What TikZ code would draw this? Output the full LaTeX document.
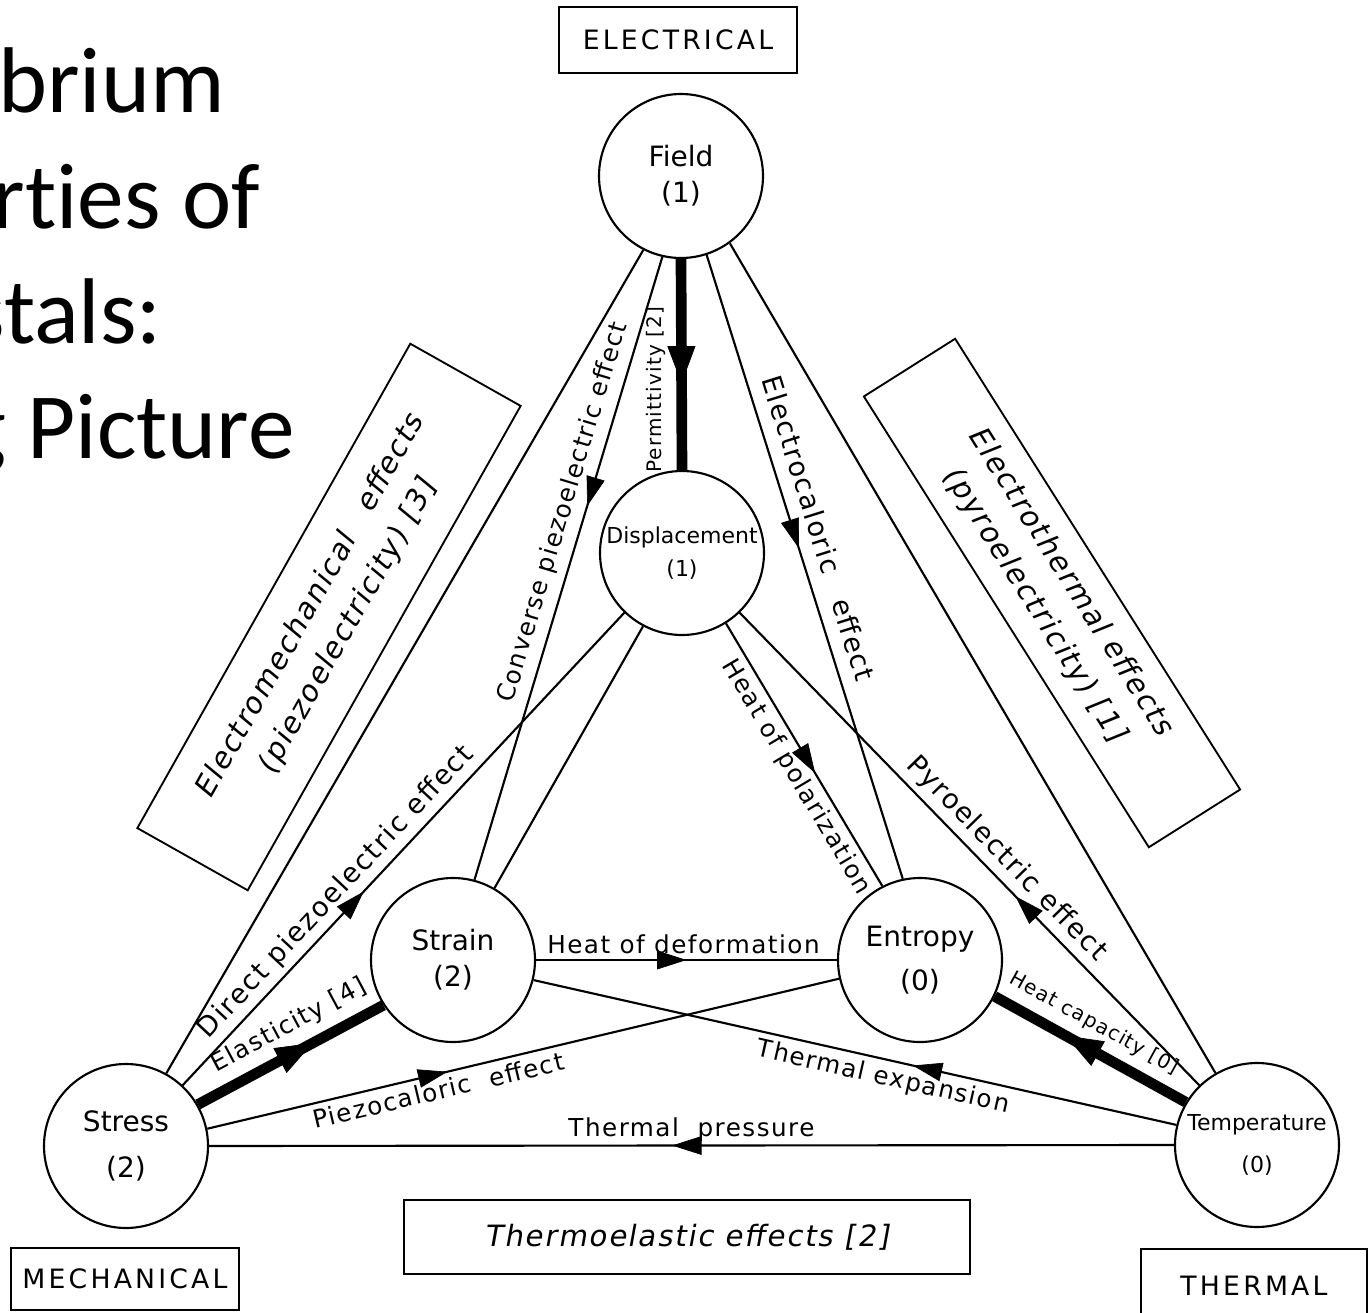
\documentclass[tikz,border=0pt]{standalone}
\usepackage{fontspec}
\setmainfont{DejaVu Sans}
\newfontfamily\capsfont{DejaVu Sans}[LetterSpace=12]
\newfontfamily\lblfont{DejaVu Sans}[LetterSpace=6]
\newfontfamily\boxfont{DejaVu Sans}[LetterSpace=6,FakeSlant=0.18]
\newfontfamily\slidefont{Carlito}[Ligatures=NoCommon]
\usetikzlibrary{arrows.meta,decorations.markings}

\begin{document}
\begin{tikzpicture}[x=0.75pt,y=-0.75pt,
  state/.style={circle,draw,line width=1.6pt,minimum size=123pt,inner sep=0pt,align=center,font=\fontsize{21}{27}\selectfont},
  small state/.style={state,font=\fontsize{16.5}{25}\selectfont},
  domainbox/.style={draw,line width=1.4pt,inner sep=0pt,font=\capsfont\fontsize{20}{24}\selectfont},
  effbox/.style={draw,line width=1.4pt,inner sep=0pt,align=center,font=\boxfont\fontsize{22}{32}\selectfont},
  slide/.style={anchor=base east,inner sep=0pt,font=\slidefont\fontsize{70}{84}\selectfont},
  flow/.style={line width=1.6pt},
  bigflow/.style={line width=8pt},
  lab/.style={font=\lblfont\fontsize{18.5}{22}\selectfont,inner sep=4pt},
  biglab/.style={font=\lblfont\fontsize{20.5}{24}\selectfont,inner sep=4pt},
  labsmall/.style={font=\lblfont\fontsize{15}{18}\selectfont,inner sep=4pt},
  midarrow/.style={postaction={decorate,decoration={markings,
      mark=at position #1 with {\arrow{Triangle[length=22pt,width=14pt,line width=0.5pt]}}}}},
  bigmid/.style={postaction={decorate,decoration={markings,
      mark=at position #1 with {\arrow{Triangle[length=28pt,width=21pt,line width=0.5pt]}}}}}
]
\useasboundingbox (0,0) rectangle (1368,1313);
\clip (0,0) rectangle (1368,1313);

% Text Node (slide title, cut at the left edge)
\node[slide] (tline1) at (225,113) {brium};
\node[slide] (tline2) at (260,228) {rties of};
\node[slide] (tline3) at (162,343) {stals:};
\node[slide] (tline4) at (295,458) {g Picture};

% Domain boxes
\node[domainbox,minimum width=178pt,minimum height=49pt] (electrical) at (678,40) {ELECTRICAL};
\node[domainbox,minimum width=171pt,minimum height=47pt] (mechanical) at (125,1279) {MECHANICAL};
\node[domainbox,anchor=north,minimum width=169pt,minimum height=56pt] (thermal) at (1254,1248) {THERMAL};

% Circles
\node[state] (field) at (681,176) {Field\\(1)};
\node[small state] (disp) at (682,553) {Displacement\\(1)};
\node[state] (strain) at (453,960) {Strain\\(2)};
\node[state] (entropy) at (920,960) {Entropy\\[6pt](0)};
\node[state] (stress) at (126,1146) {Stress\\[8pt](2)};
\node[small state] (temp) at (1257,1145) {Temperature\\[6pt](0)};

% Effect boxes
\node[effbox,minimum width=417pt,minimum height=95pt,rotate=60.6] (emech) at (329,617)
  {Electromechanical\quad effects\\(piezoelectricity) [3]};
\node[effbox,minimum width=400pt,minimum height=81pt,rotate=-57.7] (etherm) at (1052,593)
  {Electrothermal effects\\(pyroelectricity) [1]};
\node[effbox,minimum width=424pt,minimum height=56pt] (thermoel) at (687,1237)
  {Thermoelastic effects [2]};

% Connection
\draw[flow] (field.243) -- (stress.61);
\draw[flow,midarrow=0.40] (field.257) -- node[lab,sloped,above,pos=0.42,inner sep=6pt] (lconv) {Converse piezoelectric effect} (strain.75);
\draw[bigflow,bigmid=0.59] (field.270) -- node[labsmall,pos=0.62,rotate=90,anchor=south,inner sep=8pt] (lperm) {Permittivity [2]} (disp.90);
\draw[flow,midarrow=0.47] (field.288) -- node[biglab,sloped,above,pos=0.45,inner sep=10pt] (lecal) {Electrocaloric\quad effect} (entropy.102);
\draw[flow] (field.306) -- (temp.120);

% Connection
\draw[flow,midarrow=0.41] (stress.47) -- node[biglab,sloped,above,pos=0.38] (ldir) {Direct piezoelectric effect} (disp.226);
\draw[flow] (disp.242) -- (strain.60);
\draw[bigflow,bigmid=0.62] (stress.30) -- node[lab,sloped,above,pos=0.56,inner sep=7pt] (lela) {Elasticity [4]} (strain.213);
\draw[flow,midarrow=0.38] (stress.12) -- node[lab,sloped,below,pos=0.36] (lpcal) {Piezocaloric\ \ effect} (entropy.193);
\draw[flow,midarrow=0.52] (temp.180) -- node[lab,sloped,above,pos=0.5,inner sep=2pt] (ltp) {Thermal\ \ pressure} (stress.0);

% Connection
\draw[flow,midarrow=0.5] (strain.0) -- node[lab,above,pos=0.49] (lhd) {Heat of deformation} (entropy.180);
\draw[flow,midarrow=0.41] (temp.166) -- node[lab,sloped,below,pos=0.45] (lte) {Thermal expansion} (strain.346);
\draw[flow,midarrow=0.57] (disp.302) -- node[lab,sloped,below,pos=0.55] (lhp) {Heat of polarization} (entropy.117);
\draw[flow,midarrow=0.40] (temp.134) -- node[biglab,sloped,above,pos=0.45] (lpyro) {Pyroelectric effect} (disp.314);
\draw[bigflow,bigmid=0.63] (temp.149) -- node[labsmall,sloped,above,pos=0.54,inner sep=7pt] (lhc) {Heat capacity [0]} (entropy.334);

\end{tikzpicture}
\end{document}
